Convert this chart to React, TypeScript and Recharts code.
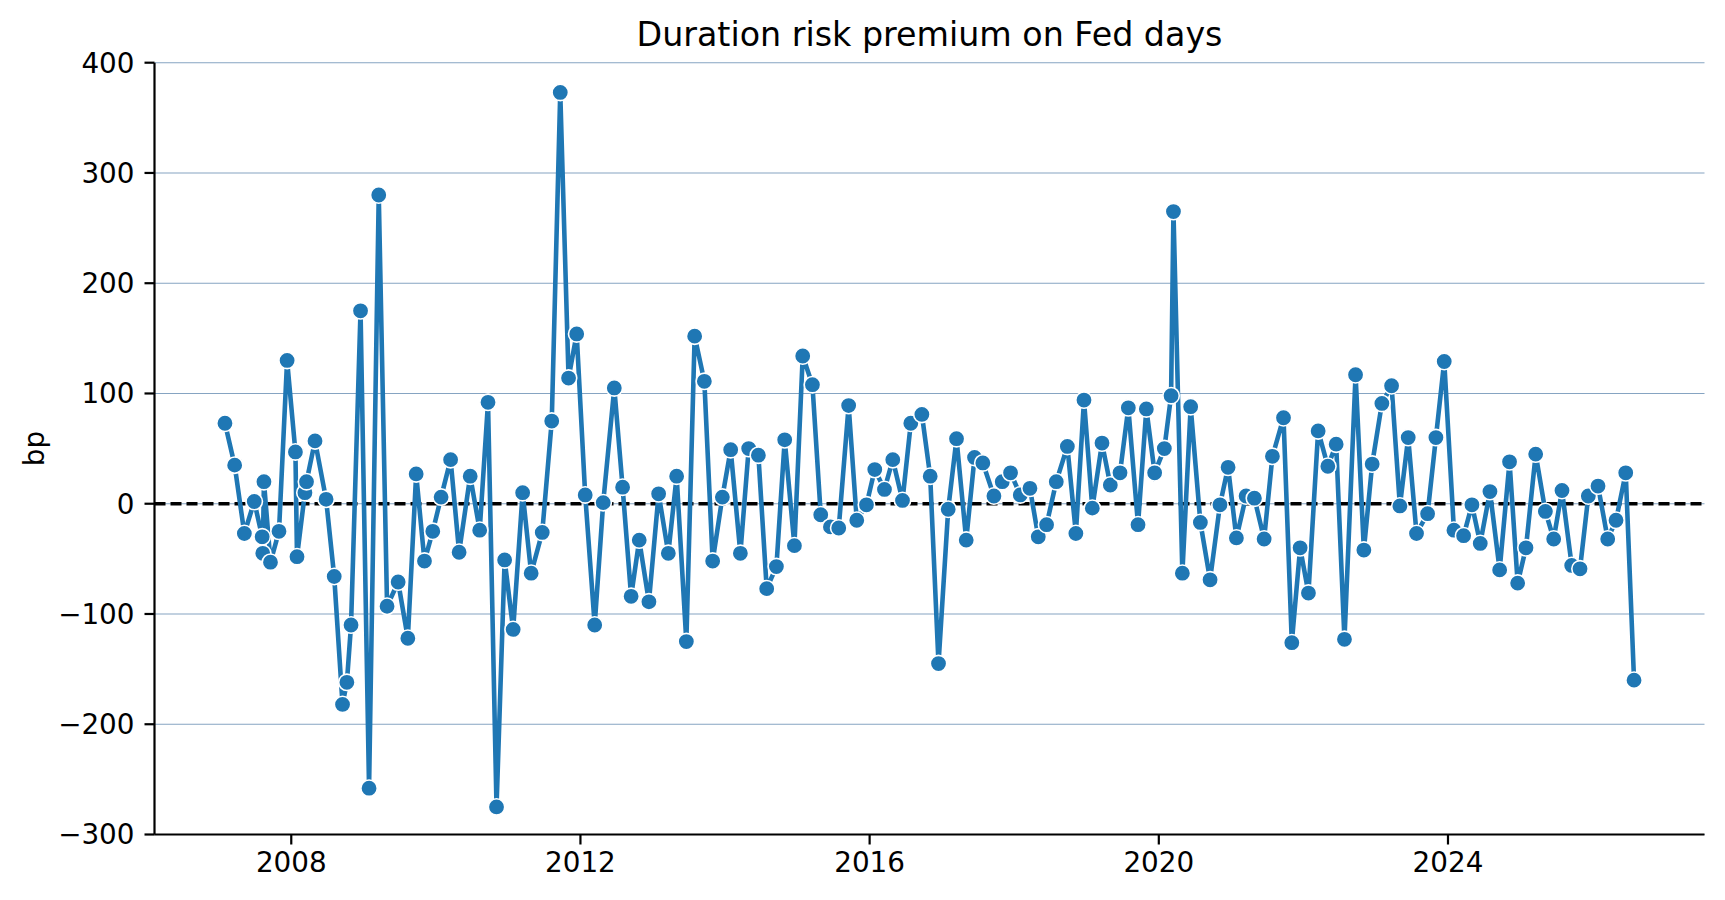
import React from "react";
import { LineChart, Line, XAxis, YAxis, CartesianGrid, ReferenceLine } from "recharts";

// FOMC meeting dates (incl. unscheduled meetings)
const meetingDates: string[] = [
  "2007-01-31", "2007-03-21", "2007-05-09", "2007-06-28", "2007-08-07", "2007-08-10", "2007-08-16", "2007-09-18", "2007-10-31", "2007-12-11",
  "2008-01-22", "2008-01-30", "2008-03-10", "2008-03-18", "2008-04-30", "2008-06-25", "2008-08-05", "2008-09-16", "2008-10-08", "2008-10-29", "2008-12-16",
  "2009-01-28", "2009-03-18", "2009-04-29", "2009-06-24", "2009-08-12", "2009-09-23", "2009-11-04", "2009-12-16",
  "2010-01-27", "2010-03-16", "2010-04-28", "2010-06-23", "2010-08-10", "2010-09-21", "2010-11-03", "2010-12-14",
  "2011-01-26", "2011-03-15", "2011-04-27", "2011-06-22", "2011-08-09", "2011-09-21", "2011-11-02", "2011-12-13",
  "2012-01-25", "2012-03-13", "2012-04-25", "2012-06-20", "2012-08-01", "2012-09-13", "2012-10-24", "2012-12-12",
  "2013-01-30", "2013-03-20", "2013-05-01", "2013-06-19", "2013-07-31", "2013-09-18", "2013-10-30", "2013-12-18",
  "2014-01-29", "2014-03-19", "2014-04-30", "2014-06-18", "2014-07-30", "2014-09-17", "2014-10-29", "2014-12-17",
  "2015-01-28", "2015-03-18", "2015-04-29", "2015-06-17", "2015-07-29", "2015-09-17", "2015-10-28", "2015-12-16",
  "2016-01-27", "2016-03-16", "2016-04-27", "2016-06-15", "2016-07-27", "2016-09-21", "2016-11-02", "2016-12-14",
  "2017-02-01", "2017-03-15", "2017-05-03", "2017-06-14", "2017-07-26", "2017-09-20", "2017-11-01", "2017-12-13",
  "2018-01-31", "2018-03-21", "2018-05-02", "2018-06-13", "2018-08-01", "2018-09-26", "2018-11-08", "2018-12-19",
  "2019-01-30", "2019-03-20", "2019-05-01", "2019-06-19", "2019-07-31", "2019-09-18", "2019-10-30", "2019-12-11",
  "2020-01-29", "2020-03-03", "2020-03-15", "2020-04-29", "2020-06-10", "2020-07-29", "2020-09-16", "2020-11-05", "2020-12-16",
  "2021-01-27", "2021-03-17", "2021-04-28", "2021-06-16", "2021-07-28", "2021-09-22", "2021-11-03", "2021-12-15",
  "2022-01-26", "2022-03-16", "2022-05-04", "2022-06-15", "2022-07-27", "2022-09-21", "2022-11-02", "2022-12-14",
  "2023-02-01", "2023-03-22", "2023-05-03", "2023-06-14", "2023-07-26", "2023-09-20", "2023-11-01", "2023-12-13",
  "2024-01-31", "2024-03-20", "2024-05-01", "2024-06-12", "2024-07-31", "2024-09-18", "2024-11-07", "2024-12-18",
  "2025-01-29", "2025-03-19", "2025-05-07", "2025-06-18", "2025-07-30", "2025-09-17", "2025-10-29", "2025-12-10",
  "2026-01-28", "2026-03-18", "2026-04-29", "2026-06-17", "2026-07-29",
];

// Duration risk premium (bp)
const premiumBp: number[] = [
  73, 35, -27, 2, -30, -45, 20, -53, -25, 130,
  47, -48, 10, 20, 57, 4, -66, -182, -162, -110, 175,
  -258, 280, -93, -71, -122, 27, -52, -25,
  6, 40, -44, 25, -24, 92, -275, -51,
  -114, 10, -63, -26, 75, 373, 114, 154,
  8, -110, 1, 105, 15, -84, -33, -89,
  9, -45, 25, -125, 152, 111, -52, 6,
  49, -45, 50, 44, -77, -57, 58, -38,
  134, 108, -10, -21, -22, 89, -15, -1,
  31, 13, 40, 3, 73, 81, 25, -145,
  -5, 59, -33, 42, 37, 7, 20, 28,
  8, 14, -30, -19, 20, 52, -27, 94,
  -4, 55, 17, 28, 87, -19, 86, 28,
  50, 98, 265, -63, 88, -17, -69, -1, 33,
  -31, 7, 5, -32, 43, 78, -126, -40,
  -81, 66, 34, 54, -123, 117, -42, 36,
  91, 107, -2, 60, -27, -9, 60, 129,
  -24, -29, -1, -36, 11, -60, 38, -72,
  -40, 45, -7, -32, 12, -56, -59, 7,
  16, -32, -15, 28, -160,
];

const yTicks: number[] = [-300, -200, -100, 0, 100, 200, 300, 400];
const xTickYears: number[] = [2008, 2012, 2016, 2020, 2024];

if (typeof document !== "undefined") {
  document.body.style.margin = "0";
}

const toTs = (s: string) => {
  const [y, m, d] = s.split("-").map(Number);
  return Date.UTC(y, m - 1, d);
};

const data = meetingDates.map((d, i) => ({ t: toTs(d), v: premiumBp[i] }));
const tMin = data[0].t;
const tMax = data[data.length - 1].t;
const pad = (tMax - tMin) * 0.05;
const xTicks = xTickYears.map((y) => Date.UTC(y, 0, 1));

const W = 1725;
const H = 900;
const FONT = "'DejaVu Sans', sans-serif";
const PLOT_LEFT = 154.5;
const PLOT_RIGHT = 1704.5;
const PLOT_TOP = 62.7;
const PLOT_BOTTOM = 834.5;
const YAXIS_W = 100;
const XAXIS_H = 60;

const fmtY = (v: number) => (v < 0 ? "\u2212" + Math.abs(v) : String(v));
const fmtX = (v: number) => String(new Date(v).getUTCFullYear());

export default function App() {
  return (
    <div style={{ position: "relative", width: W, height: H, background: "#fff" }}>
      <LineChart
        width={W}
        height={H}
        data={data}
        margin={{
          top: PLOT_TOP,
          right: W - PLOT_RIGHT,
          left: PLOT_LEFT - YAXIS_W,
          bottom: H - PLOT_BOTTOM - XAXIS_H,
        }}
      >
        <CartesianGrid horizontal={true} vertical={false} stroke="#86a4c2" strokeWidth={1.1} />
        <XAxis
          dataKey="t"
          type="number"
          domain={[tMin - pad, tMax + pad]}
          ticks={xTicks}
          tickFormatter={fmtX}
          allowDataOverflow
          height={XAXIS_H}
          axisLine={{ stroke: "#000", strokeWidth: 2.2 }}
          tickLine={{ stroke: "#000", strokeWidth: 2.2 }}
          tickSize={10}
          tickMargin={8}
          tick={{ fontSize: 27.8, fill: "#000", fontFamily: FONT }}
          interval={0}
        />
        <YAxis
          type="number"
          domain={[-300, 400]}
          ticks={yTicks}
          tickFormatter={fmtY}
          width={YAXIS_W}
          axisLine={{ stroke: "#000", strokeWidth: 2.2 }}
          tickLine={{ stroke: "#000", strokeWidth: 2.2 }}
          tickSize={10}
          tickMargin={10}
          tick={{ fontSize: 27.8, fill: "#000", fontFamily: FONT }}
          interval={0}
        />
        <ReferenceLine y={0} stroke="#000" strokeWidth={3.3} strokeDasharray="11 5" />
        <Line
          type="linear"
          dataKey="v"
          stroke="#1f77b4"
          strokeWidth={4.6}
          dot={{ r: 8.2, fill: "#1f77b4", stroke: "#ffffff", strokeWidth: 1.6 }}
          activeDot={false}
          isAnimationActive={false}
        />
      </LineChart>
      <svg
        width={W}
        height={H}
        style={{ position: "absolute", left: 0, top: 0, pointerEvents: "none" }}
      >
        <text
          x={(PLOT_LEFT + PLOT_RIGHT) / 2}
          y={46}
          textAnchor="middle"
          fontSize={33.3}
          fontFamily={FONT}
          fill="#000"
        >
          Duration risk premium on Fed days
        </text>
        <text
          x={35}
          y={(PLOT_TOP + PLOT_BOTTOM) / 2}
          textAnchor="middle"
          dominantBaseline="central"
          fontSize={27.8}
          fontFamily={FONT}
          fill="#000"
          transform={`rotate(-90, 35, ${(PLOT_TOP + PLOT_BOTTOM) / 2})`}
        >
          bp
        </text>
      </svg>
    </div>
  );
}
